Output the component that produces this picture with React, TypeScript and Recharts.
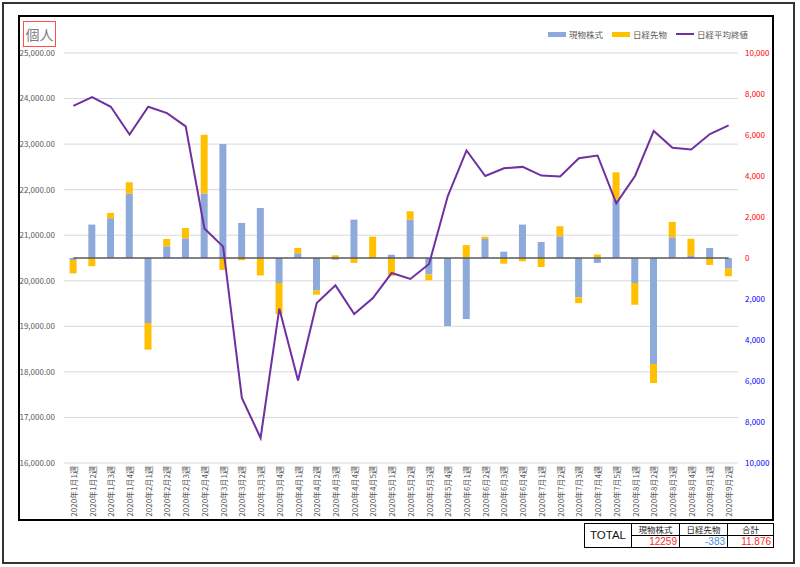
import React from "react";
import {
  ComposedChart,
  Bar,
  Line,
  XAxis,
  YAxis,
  CartesianGrid,
  ReferenceLine,
} from "recharts";

// week labels
const weeks = [
  "2020年1月1週", "2020年1月2週", "2020年1月3週", "2020年1月4週",
  "2020年2月1週", "2020年2月2週", "2020年2月3週", "2020年2月4週",
  "2020年3月1週", "2020年3月2週", "2020年3月3週", "2020年3月4週",
  "2020年4月1週", "2020年4月2週", "2020年4月3週", "2020年4月4週", "2020年4月5週",
  "2020年5月1週", "2020年5月2週", "2020年5月3週", "2020年5月4週",
  "2020年6月1週", "2020年6月2週", "2020年6月3週", "2020年6月4週",
  "2020年7月1週", "2020年7月2週", "2020年7月3週", "2020年7月4週", "2020年7月5週",
  "2020年8月1週", "2020年8月2週", "2020年8月3週", "2020年8月4週",
  "2020年9月1週", "2020年9月2週",
];

// 現物株式 (right axis)
const spotStocks = [
  -100, 1630, 1940, 3150, -3170, 570, 960, 3150, 5560, 1710, 2440, -1220,
  230, -1590, -80, 1870, 20, 160, 1870, -800, -3320, -2980, 930, 310, 1630,
  780, 1060, -1920, -240, 2850, -1220, -5170, 1010, 130, 490, -520,
];

// 日経先物 (right axis)
const nikkeiFutures = [
  -650, -400, 260, 540, -1300, 360, 500, 2860, -580, -110, -850, -1510,
  260, -200, 130, -240, 1020, -870, 410, -290, 0, 630, 110, -280, -160,
  -440, 490, -280, 170, 1330, -1060, -930, 750, 810, -340, -370,
];

// 日経平均終値 (left axis)
const nikkeiClose = [
  23840, 24030, 23820, 23210, 23820, 23680, 23390, 21150, 20750, 17430, 16550, 19390,
  17810, 19510, 19900, 19270, 19620, 20170, 20040, 20370, 21860, 22860, 22300, 22470, 22500,
  22310, 22290, 22690, 22750, 21700, 22300, 23290, 22920, 22880, 23220, 23410,
];

const leftTicks = [16000, 17000, 18000, 19000, 20000, 21000, 22000, 23000, 24000, 25000];
const rightTicks = [-10000, -8000, -6000, -4000, -2000, 0, 2000, 4000, 6000, 8000, 10000];

const totalHeaders = ["現物株式", "日経先物", "合計"];
const totalValues = ["12259", "-383", "11.876"];

const COLORS = {
  spot: "#8eaadb",
  futures: "#ffc000",
  close: "#7030a0",
  text: "#595959",
  grid: "#d9d9d9",
};

const FONT = "'Noto Sans CJK JP', 'Noto Sans', sans-serif";
const NUM_FONT = "'Liberation Sans', Arial, sans-serif";

const data = weeks.map((week, i) => ({
  week,
  spot: spotStocks[i],
  futures: nikkeiFutures[i],
  close: nikkeiClose[i],
}));

const WeekTick = ({ x, y, payload }: any) => (
  <g transform={`translate(${x},${y})`}>
    <text
      transform="rotate(-90)"
      x={0}
      y={0}
      textAnchor="end"
      dominantBaseline="central"
      fontSize={8}
      fontFamily={FONT}
      fill={COLORS.text}
    >
      {payload.value}
    </text>
  </g>
);

const RightTick = ({ x, y, payload }: any) => {
  const v = payload.value as number;
  return (
    <text
      x={x}
      y={y}
      dy={3}
      textAnchor="start"
      fontSize={8}
      fontFamily={FONT}
      fill={v >= 0 ? "#ff0000" : "#0000ff"}
    >
      {Math.abs(v).toLocaleString("en-US")}
    </text>
  );
};

const legendItems = [
  { label: "現物株式", color: COLORS.spot, kind: "bar" },
  { label: "日経先物", color: COLORS.futures, kind: "bar" },
  { label: "日経平均終値", color: COLORS.close, kind: "line" },
];

// column edges of the totals table
const colLeft = [584, 631, 679, 727];
const colWidth = [47, 48, 48, 46];

const box: React.CSSProperties = {
  position: "absolute",
  boxSizing: "border-box",
  border: "1px solid #000",
  overflow: "hidden",
  whiteSpace: "nowrap",
};

export default function App() {
  return (
    <div
      style={{
        position: "absolute",
        left: 0,
        top: 0,
        width: 800,
        height: 567,
        background: "#fff",
        fontFamily: FONT,
      }}
    >
      {/* outer frame */}
      <div
        style={{
          position: "absolute",
          left: 2,
          top: 2,
          width: 789,
          height: 558,
          border: "2px solid #333",
        }}
      />
      {/* chart frame */}
      <div
        style={{
          position: "absolute",
          left: 18,
          top: 15,
          width: 752,
          height: 502,
          border: "2px solid #000",
        }}
      />

      <div style={{ position: "absolute", left: 0, top: 0 }}>
        <ComposedChart
          width={800}
          height={567}
          data={data}
          stackOffset="sign"
          barCategoryGap="30%"
          margin={{ top: 53, right: 28, left: 20, bottom: 44 }}
        >
          <CartesianGrid
            yAxisId="left"
            vertical={false}
            stroke={COLORS.grid}
            strokeWidth={1}
          />
          <XAxis
            dataKey="week"
            interval={0}
            axisLine={false}
            tickLine={false}
            tickSize={0}
            tickMargin={3}
            height={60}
            tick={<WeekTick />}
          />
          <YAxis
            yAxisId="left"
            orientation="left"
            domain={[16000, 25000]}
            ticks={leftTicks}
            width={44}
            axisLine={false}
            tickLine={false}
            tickSize={0}
            tickMargin={9}
            tick={{ fontSize: 8, fill: COLORS.text, fontFamily: FONT }}
            tickFormatter={(v) =>
              v.toLocaleString("en-US", { minimumFractionDigits: 2 })
            }
          />
          <YAxis
            yAxisId="right"
            orientation="right"
            domain={[-10000, 10000]}
            ticks={rightTicks}
            width={34}
            axisLine={false}
            tickLine={false}
            tickSize={0}
            tickMargin={7}
            tick={<RightTick />}
          />
          <Bar
            yAxisId="right"
            dataKey="spot"
            stackId="a"
            fill={COLORS.spot}
            isAnimationActive={false}
          />
          <Bar
            yAxisId="right"
            dataKey="futures"
            stackId="a"
            fill={COLORS.futures}
            isAnimationActive={false}
          />
          <ReferenceLine
            yAxisId="right"
            segment={[
              { x: weeks[0], y: 0 },
              { x: weeks[weeks.length - 1], y: 0 },
            ]}
            stroke="#595959"
            strokeWidth={1.5}
          />
          <Line
            yAxisId="left"
            dataKey="close"
            stroke={COLORS.close}
            strokeWidth={2}
            dot={false}
            isAnimationActive={false}
          />
        </ComposedChart>
      </div>

      {/* title */}
      <div
        style={{
          position: "absolute",
          left: 23,
          top: 21,
          width: 31,
          height: 24,
          border: "1px solid #ff4d4d",
          color: "#7f7f7f",
          fontSize: 14,
          lineHeight: "24px",
          textAlign: "center",
        }}
      >
        個人
      </div>

      {/* legend */}
      <div
        style={{
          position: "absolute",
          left: 548,
          top: 28,
          display: "flex",
          alignItems: "center",
          fontSize: 8.5,
          color: COLORS.text,
          whiteSpace: "nowrap",
        }}
      >
        {legendItems.map((it) => (
          <div
            key={it.label}
            style={{ display: "flex", alignItems: "center", marginRight: 9 }}
          >
            <span
              style={{
                display: "inline-block",
                width: 18,
                height: it.kind === "bar" ? 5 : 2,
                background: it.color,
                marginRight: 3,
              }}
            />
            <span>{it.label}</span>
          </div>
        ))}
      </div>

      {/* totals table */}
      <div
        style={{
          ...box,
          left: colLeft[0],
          top: 523,
          width: colWidth[0] + 1,
          height: 25,
          fontSize: 11.5,
          fontFamily: NUM_FONT,
          lineHeight: "23px",
          textAlign: "center",
          color: "#111",
        }}
      >
        TOTAL
      </div>
      {totalHeaders.map((h, i) => (
        <div
          key={h}
          style={{
            ...box,
            left: colLeft[i + 1],
            top: 523,
            width: colWidth[i + 1] + 1,
            height: 13,
            fontSize: 8.5,
            lineHeight: "10.5px",
            textAlign: "center",
            color: "#222",
          }}
        >
          {h}
        </div>
      ))}
      {totalValues.map((v, i) => (
        <div
          key={i}
          style={{
            ...box,
            left: colLeft[i + 1],
            top: 535,
            width: colWidth[i + 1] + 1,
            height: 13,
            fontSize: 10,
            fontFamily: NUM_FONT,
            lineHeight: "11px",
            textAlign: "right",
            paddingRight: 2,
            color: v.startsWith("-") ? "#4a8fe0" : "#ff2a2a",
          }}
        >
          {v}
        </div>
      ))}
    </div>
  );
}
